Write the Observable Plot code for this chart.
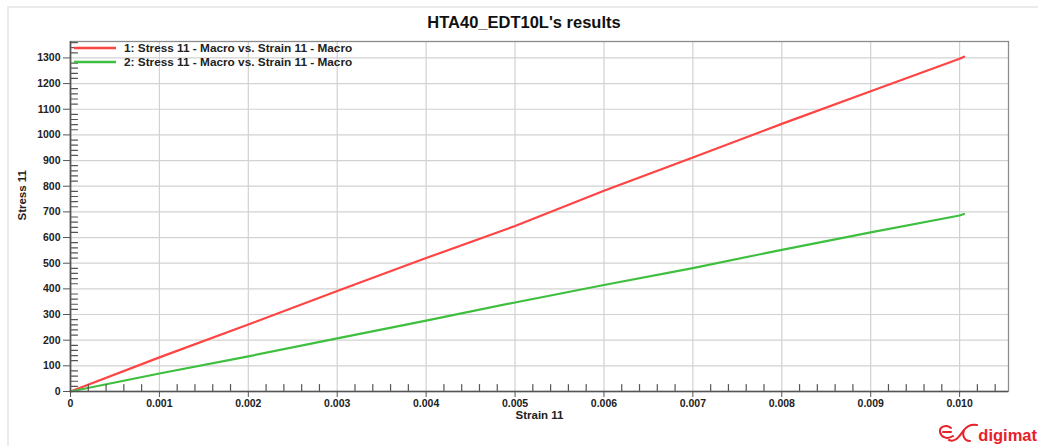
<!DOCTYPE html>
<html><head><meta charset="utf-8">
<script src="https://cdn.jsdelivr.net/npm/d3@7"></script>
<script src="https://cdn.jsdelivr.net/npm/@observablehq/plot@0.6"></script>
<style>
body{margin:0;background:#fff;font-family:"Liberation Sans",Arial,sans-serif;}
#wrap{position:relative;width:1038px;height:446px;overflow:hidden;background:#fff;}
#panel{position:absolute;left:7px;top:6px;right:-4px;bottom:-4px;border-top:2px solid #ebebeb;border-left:2px solid #ebebeb;}
#chart{position:absolute;left:0;top:0;}
#title{position:absolute;left:0;width:1048px;top:13px;text-align:center;font-weight:bold;font-size:16.5px;color:#111;}
#legend{position:absolute;left:74px;top:41px;font-weight:bold;font-size:11.8px;color:#222;line-height:14px;}
#legend div{display:flex;align-items:center;height:14px;}
#legend svg{margin-right:8px;}
#logo{position:absolute;right:1px;top:421px;display:flex;align-items:flex-end;}
#logo span{font-weight:bold;font-size:16.5px;color:#e8202a;font-family:"Liberation Sans",Arial,sans-serif;line-height:20px;}
</style>
</head><body>
<div id="wrap">
  <div id="panel"></div>
  <div id="chart"></div>
  <div id="title"></div>
  <div id="legend"></div>
  <div id="logo"><svg width="42" height="24" viewBox="0 0 42 24"><g fill="none" stroke="#e8202a" stroke-width="2" stroke-linecap="round"><path d="M15,7 C10,3 3,6 4,11 C5,16 11,19 17,15"/><path d="M7,11 H15"/><path d="M13,19 C20,22 24,14 28,9 C31,5 36,3 41,4"/><path d="M28,9 C26,14 28,20 34,20"/></g></svg><span>digimat</span></div>
</div>
<script>
// ---- data ----
const titleText = "HTA40_EDT10L's results";
const xLabel = "Strain 11";
const yLabel = "Stress 11";
const seriesNames = ["1: Stress 11 - Macro vs. Strain 11 - Macro", "2: Stress 11 - Macro vs. Strain 11 - Macro"];
const seriesColors = ["#ff4444", "#3fbf3f"];
const strain = [0, 0.001, 0.002, 0.003, 0.004, 0.005, 0.006, 0.007, 0.008, 0.009, 0.010, 0.01005];
const stress1 = [0, 133, 261, 392, 520, 645, 782, 912, 1043, 1170, 1297, 1305];
const stress2 = [0, 70, 137, 207, 276, 347, 415, 481, 552, 620, 686, 692];
const xTicks = [0, 0.001, 0.002, 0.003, 0.004, 0.005, 0.006, 0.007, 0.008, 0.009, 0.010];
const xTickLabels = ["0", "0.001", "0.002", "0.003", "0.004", "0.005", "0.006", "0.007", "0.008", "0.009", "0.010"];
const yTicks = [0, 100, 200, 300, 400, 500, 600, 700, 800, 900, 1000, 1100, 1200, 1300];
const yTickLabels = ["0", "100", "200", "300", "400", "500", "600", "700", "800", "900", "1000", "1100", "1200", "1300"];
const xMinorStep = 0.0002;
const yMinorStep = 20;

// ---- build ----
const rows = [];
[stress1, stress2].forEach((s, k) => strain.forEach((x, i) => rows.push({strain: x, stress: s[i], series: seriesNames[k] + "#" + k})));
const xMinor = d3.range(0, 0.01055, xMinorStep).filter(v => Math.abs(v / 0.001 - Math.round(v / 0.001)) > 1e-6);
const yMinor = d3.range(0, 1364, yMinorStep).filter(v => v % 100 !== 0);
const tickLine = {draw(ctx, l) { ctx.moveTo(0, 0); ctx.lineTo(0, -l); }};

const chart = Plot.plot({
  width: 1038, height: 446,
  marginLeft: 70, marginRight: 30, marginTop: 41, marginBottom: 55,
  style: {fontFamily: "'Liberation Sans', Arial, sans-serif", fontSize: "10.5px", fontWeight: "bold", color: "#222", background: "transparent"},
  x: {domain: [0, 0.01055], label: null},
  y: {domain: [0, 1364], label: null},
  color: {domain: rows.map(d => d.series).filter((v, i, a) => a.indexOf(v) === i), range: seriesColors},
  marks: [
    Plot.gridX(xTicks, {stroke: "#d2d2d2", strokeOpacity: 1, strokeWidth: 1.2}),
    Plot.gridY(yTicks, {stroke: "#d2d2d2", strokeOpacity: 1, strokeWidth: 1.2}),
    Plot.line(rows, {x: "strain", y: "stress", z: "series", stroke: "series", strokeWidth: 2.2}),
    Plot.vector(xMinor, {x: d => d, y: () => 0, length: 7, rotate: 0, anchor: "start", shape: tickLine, stroke: "#555", strokeWidth: 1.2}),
    Plot.vector(yMinor, {x: () => 0, y: d => d, length: 7, rotate: 90, anchor: "start", shape: tickLine, stroke: "#555", strokeWidth: 1.2}),
    Plot.frame({stroke: "#8c8c8c", strokeWidth: 1.3}),
    Plot.ruleY([0], {stroke: "#555", strokeWidth: 1.6}),
    Plot.ruleX([0], {stroke: "#555", strokeWidth: 1.6}),
    Plot.axisX({ticks: xTicks, tickSize: 6, tickPadding: 2, tickFormat: d => xTickLabels[xTicks.indexOf(d)], stroke: "#555", label: null}),
    Plot.axisY({ticks: yTicks, tickSize: 7, tickPadding: 3, tickFormat: d => yTickLabels[yTicks.indexOf(d)], stroke: "#555", label: null}),
    Plot.text([xLabel], {frameAnchor: "bottom", dy: 27, fontWeight: "bold", fontSize: 11.5, fill: "#222"}),
    Plot.text([yLabel], {frameAnchor: "left", dx: -48, dy: 4, rotate: -90, fontWeight: "bold", fontSize: 11.5, fill: "#222"})
  ]
});
document.getElementById("chart").appendChild(chart);
document.getElementById("title").textContent = titleText;
const legend = document.getElementById("legend");
seriesNames.forEach((name, k) => {
  const row = document.createElement("div");
  row.innerHTML = `<svg width="42" height="4"><line x1="0" y1="2" x2="42" y2="2" stroke="${seriesColors[k]}" stroke-width="2.5"/></svg>`;
  const t = document.createElement("span");
  t.textContent = name;
  row.appendChild(t);
  legend.appendChild(row);
});
</script>
</body></html>
